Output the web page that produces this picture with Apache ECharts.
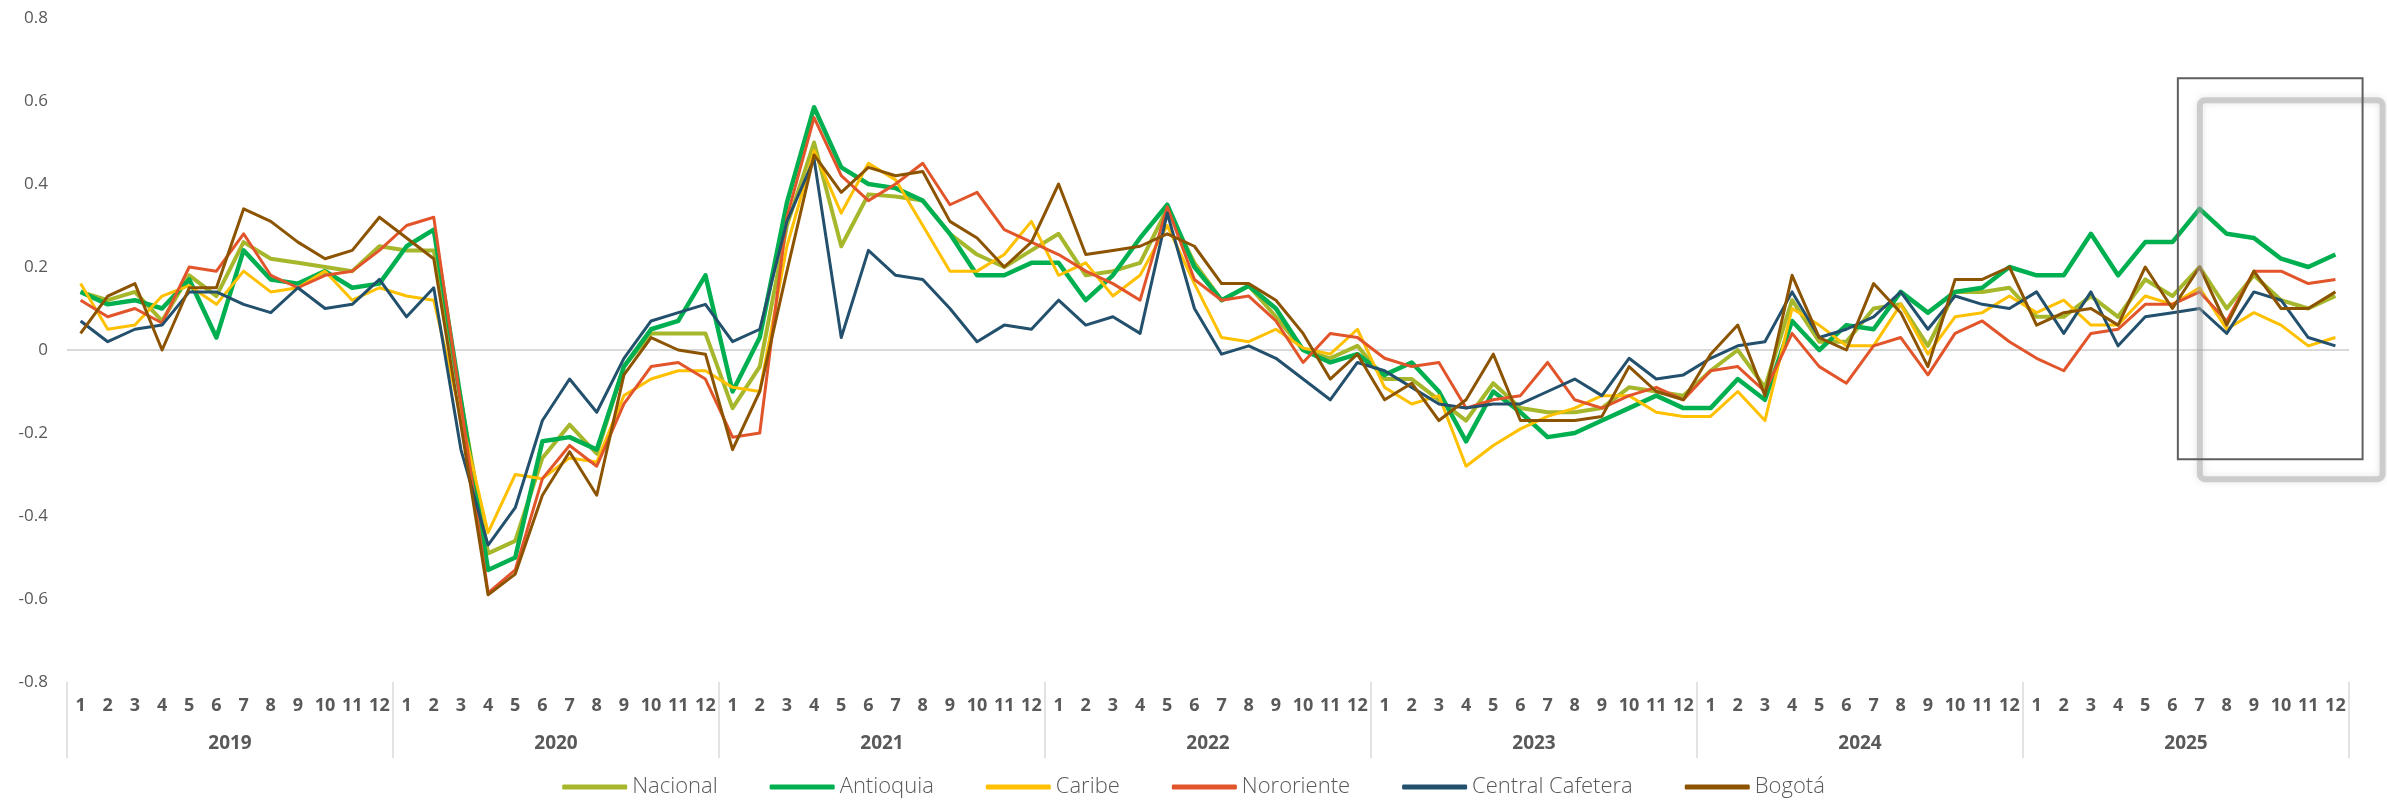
<!DOCTYPE html>
<html>
<head>
<meta charset="utf-8">
<script src="https://cdn.jsdelivr.net/npm/echarts@6/dist/echarts.min.js"></script>
<style>
html,body{margin:0;padding:0;background:#fff;}
#c{width:2387px;height:805px;}
</style>
</head>
<body>
<div id="c"></div>
<script>
const years = ['2019','2020','2021','2022','2023','2024','2025'];
const monthLabels = ['1','2','3','4','5','6','7','8','9','10','11','12'];
const yTicks = { min: -0.8, max: 0.8, interval: 0.2 };

const nacional = [
 0.14,0.12,0.14,0.07,0.18,0.13,0.26,0.22,0.21,0.20,0.19,0.25,
 0.24,0.24,-0.12,-0.49,-0.46,-0.26,-0.18,-0.25,-0.04,0.04,0.04,0.04,
 -0.14,-0.04,0.30,0.50,0.25,0.375,0.37,0.36,0.28,0.23,0.20,0.24,
 0.28,0.18,0.19,0.21,0.34,0.21,0.12,0.155,0.08,0.00,-0.02,0.01,
 -0.07,-0.07,-0.12,-0.17,-0.08,-0.14,-0.15,-0.15,-0.14,-0.09,-0.10,-0.11,
 -0.05,0.00,-0.09,0.12,0.02,0.02,0.10,0.11,0.01,0.14,0.14,0.15,
 0.08,0.08,0.13,0.08,0.17,0.13,0.20,0.10,0.18,0.12,0.10,0.13
];
const antioquia = [
 0.14,0.11,0.12,0.10,0.17,0.03,0.24,0.17,0.16,0.19,0.15,0.16,
 0.25,0.29,-0.12,-0.53,-0.50,-0.22,-0.21,-0.24,-0.04,0.05,0.07,0.18,
 -0.10,0.03,0.355,0.585,0.44,0.40,0.39,0.36,0.28,0.18,0.18,0.21,
 0.21,0.12,0.18,0.27,0.35,0.20,0.12,0.155,0.10,0.00,-0.03,-0.01,
 -0.06,-0.03,-0.10,-0.22,-0.10,-0.15,-0.21,-0.20,-0.17,-0.14,-0.11,-0.14,
 -0.14,-0.07,-0.12,0.07,0.00,0.06,0.05,0.14,0.09,0.14,0.15,0.20,
 0.18,0.18,0.28,0.18,0.26,0.26,0.34,0.28,0.27,0.22,0.20,0.23
];
const caribe = [
 0.16,0.05,0.06,0.13,0.155,0.11,0.19,0.14,0.15,0.19,0.12,0.15,
 0.13,0.12,-0.16,-0.44,-0.30,-0.31,-0.26,-0.27,-0.11,-0.07,-0.05,-0.05,
 -0.09,-0.10,0.25,0.48,0.33,0.45,0.41,0.30,0.19,0.19,0.23,0.31,
 0.18,0.21,0.13,0.18,0.30,0.16,0.03,0.02,0.05,0.005,-0.01,0.05,
 -0.09,-0.13,-0.11,-0.28,-0.23,-0.19,-0.16,-0.14,-0.11,-0.11,-0.15,-0.16,
 -0.16,-0.10,-0.17,0.10,0.06,0.01,0.01,0.11,-0.01,0.08,0.09,0.13,
 0.09,0.12,0.06,0.06,0.13,0.11,0.15,0.05,0.09,0.06,0.01,0.03
];
const nororiente = [
 0.12,0.08,0.10,0.065,0.20,0.19,0.28,0.18,0.15,0.18,0.19,0.24,
 0.30,0.32,-0.13,-0.585,-0.53,-0.31,-0.23,-0.28,-0.13,-0.04,-0.03,-0.07,
 -0.21,-0.20,0.32,0.56,0.42,0.36,0.40,0.45,0.35,0.38,0.29,0.26,
 0.23,0.19,0.16,0.12,0.345,0.17,0.12,0.13,0.07,-0.03,0.04,0.03,
 -0.02,-0.04,-0.03,-0.14,-0.12,-0.11,-0.03,-0.12,-0.14,-0.11,-0.09,-0.12,
 -0.05,-0.04,-0.10,0.04,-0.04,-0.08,0.01,0.03,-0.06,0.04,0.07,0.02,
 -0.02,-0.05,0.04,0.05,0.11,0.11,0.14,0.07,0.19,0.19,0.16,0.17
];
const centralCafetera = [
 0.07,0.02,0.05,0.06,0.14,0.14,0.11,0.09,0.15,0.10,0.11,0.17,
 0.08,0.15,-0.24,-0.47,-0.38,-0.17,-0.07,-0.15,-0.02,0.07,0.09,0.11,
 0.02,0.05,0.31,0.46,0.03,0.24,0.18,0.17,0.10,0.02,0.06,0.05,
 0.12,0.06,0.08,0.04,0.33,0.10,-0.01,0.01,-0.02,-0.07,-0.12,-0.03,
 -0.05,-0.09,-0.13,-0.14,-0.13,-0.13,-0.10,-0.07,-0.11,-0.02,-0.07,-0.06,
 -0.02,0.01,0.02,0.14,0.03,0.05,0.08,0.14,0.05,0.13,0.11,0.10,
 0.14,0.04,0.14,0.01,0.08,0.09,0.10,0.04,0.14,0.12,0.03,0.01
];
const bogota = [
 0.04,0.13,0.16,0.00,0.15,0.15,0.34,0.31,0.26,0.22,0.24,0.32,
 0.27,0.22,-0.18,-0.59,-0.54,-0.35,-0.245,-0.35,-0.06,0.03,0.00,-0.01,
 -0.24,-0.10,0.19,0.47,0.38,0.44,0.42,0.43,0.31,0.27,0.20,0.26,
 0.40,0.23,0.24,0.25,0.28,0.25,0.16,0.16,0.12,0.04,-0.07,-0.01,
 -0.12,-0.08,-0.17,-0.12,-0.01,-0.17,-0.17,-0.17,-0.16,-0.04,-0.10,-0.12,
 -0.01,0.06,-0.11,0.18,0.03,0.00,0.16,0.09,-0.04,0.17,0.17,0.20,
 0.06,0.09,0.10,0.06,0.20,0.10,0.20,0.06,0.19,0.10,0.10,0.14
];

// annotation box (category index range and value range)
const boxRange = { fromIndex: 77.2, toIndex: 84.0, top: 0.655, bottom: -0.263 };

const categories = [];
years.forEach(y => monthLabels.forEach(m => categories.push(y + '-' + m)));

const seriesDefs = [
  { name: 'Nacional', data: nacional, color: '#A6B72B', width: 4 },
  { name: 'Antioquia', data: antioquia, color: '#00B050', width: 4.5 },
  { name: 'Caribe', data: caribe, color: '#FFC000', width: 3 },
  { name: 'Nororiente', data: nororiente, color: '#E2552A', width: 3 },
  { name: 'Central Cafetera', data: centralCafetera, color: '#22506D', width: 3 },
  { name: 'Bogotá', data: bogota, color: '#8C5300', width: 3 }
];

const txt = '#595959';
const chart = echarts.init(document.getElementById('c'), null, { renderer: 'canvas' });
const splitColors = [];
for (let v = yTicks.min; v <= yTicks.max + 1e-9; v += yTicks.interval) {
  splitColors.push(Math.abs(v) < 1e-9 ? '#D9D9D9' : 'rgba(0,0,0,0)');
}

chart.setOption({
  animation: false,
  backgroundColor: '#fff',
  grid: { left: 67, right: 38, top: 18, bottom: 123, containLabel: false },
  legend: {
    bottom: 2, left: 'center',
    itemWidth: 65, itemHeight: 5, itemGap: 52,
    icon: 'roundRect',
    textStyle: { color: txt, fontSize: 22, fontFamily: 'Open Sans', fontWeight: 300 },
    data: seriesDefs.map(s => s.name)
  },
  xAxis: [
    {
      type: 'category', data: categories, boundaryGap: true, position: 'bottom',
      axisLine: { show: false }, axisTick: { show: false },
      axisLabel: {
        interval: 0, margin: 15, color: txt, fontSize: 18, fontWeight: 'bold', fontFamily: 'Open Sans',
        formatter: v => v.split('-')[1]
      }
    },
    {
      type: 'category', data: years, boundaryGap: true, position: 'bottom',
      axisLine: { show: false },
      axisTick: { show: true, length: 76, lineStyle: { color: '#D9D9D9', width: 1.5 } },
      axisLabel: { margin: 52, color: txt, fontSize: 19, fontWeight: 'bold', fontFamily: 'Open Sans' }
    }
  ],
  yAxis: {
    type: 'value', min: yTicks.min, max: yTicks.max, interval: yTicks.interval,
    axisLine: { show: false }, axisTick: { show: false },
    axisLabel: { margin: 19, color: txt, fontSize: 17, fontFamily: 'Open Sans' },
    splitLine: { show: true, lineStyle: { color: splitColors, width: 2 } }
  },
  series: seriesDefs.map(s => ({
    name: s.name, type: 'line', xAxisIndex: 0, data: s.data,
    showSymbol: false, symbol: 'none', smooth: false,
    lineStyle: { color: s.color, width: s.width, join: 'round' },
    itemStyle: { color: s.color }
  }))
});

const x0 = chart.convertToPixel({ xAxisIndex: 0 }, 0);
const x1 = chart.convertToPixel({ xAxisIndex: 0 }, categories.length - 1);
const step = (x1 - x0) / (categories.length - 1);
const px = i => x0 + step * i;
const py = v => chart.convertToPixel({ yAxisIndex: 0 }, v);
const bx = px(boxRange.fromIndex), bw = px(boxRange.toIndex) - bx;
const by = py(boxRange.top), bh = py(boxRange.bottom) - by;

chart.setOption({
  graphic: [
    {
      type: 'rect', z: 100, silent: true,
      shape: { x: bx + 22, y: by + 22, width: bw - 2, height: bh - 2, r: 5 },
      style: { fill: null, stroke: 'rgba(160,160,160,0.45)', lineWidth: 6,
               shadowBlur: 7, shadowColor: 'rgba(160,160,160,0.6)' }
    },
    {
      type: 'rect', z: 101, silent: true,
      shape: { x: bx, y: by, width: bw, height: bh },
      style: { fill: null, stroke: '#5F5F5F', lineWidth: 2 }
    }
  ]
});
</script>
</body>
</html>
